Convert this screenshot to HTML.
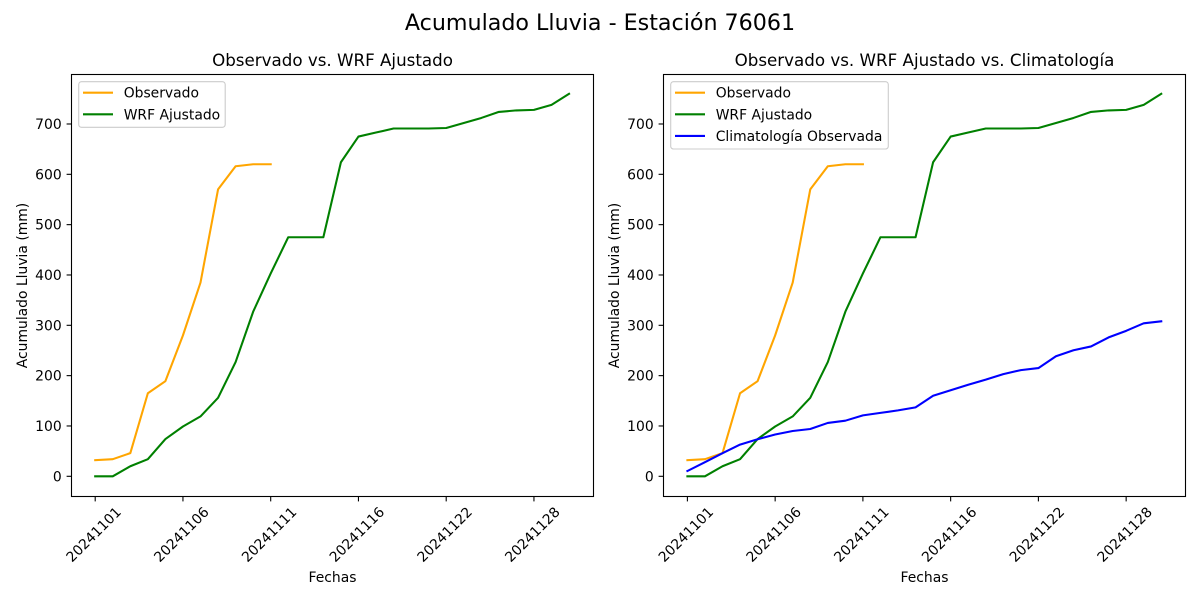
<!DOCTYPE html>
<html><head><meta charset="utf-8"><style>
html,body{margin:0;padding:0;background:#fff;}
svg{display:block;font-family:"DejaVu Sans","Liberation Sans",sans-serif;}
</style></head><body>
<svg width="1200" height="600" viewBox="0 0 1200 600" xmlns="http://www.w3.org/2000/svg">
<rect width="1200" height="600" fill="#fff"/>
<text x="600" y="30" font-size="22.2" text-anchor="middle" fill="#000">Acumulado Lluvia - Estación 76061</text>

<!-- LEFT AXES -->
<text x="332.5" y="66" font-size="16.7" text-anchor="middle" fill="#000">Observado vs. WRF Ajustado</text>
<g fill="none" stroke-linejoin="round" stroke-linecap="square">
<g transform="translate(95.2,476.3) scale(17.55,-0.5033)">
<polyline vector-effect="non-scaling-stroke" stroke="#FFA500" stroke-width="2.08" points="0,32 1,34 2,46 3,165 4,189 5,280 6,385 7,570 8,616 9,620 10,620"/>
<polyline vector-effect="non-scaling-stroke" stroke="#008000" stroke-width="2.08" points="0,0 1,0 2,20 3,34 4,74 5,99 6,119 7,156 8,227 9,327 10,403 11,475 12,475 13,475 14,624 15,675 16,683 17,691 18,691 19,691 20,692 21,702 22,712 23,724 24,727 25,728 26,738 27,760"/>
</g>
</g>
<rect x="71.5" y="74.5" width="522" height="422" fill="none" stroke="#000" stroke-width="1.1"/>
<g stroke="#000" stroke-width="1.1">
<line x1="66.6" x2="71.5" y1="476.3" y2="476.3"/>
<line x1="66.6" x2="71.5" y1="425.97" y2="425.97"/>
<line x1="66.6" x2="71.5" y1="375.64" y2="375.64"/>
<line x1="66.6" x2="71.5" y1="325.31" y2="325.31"/>
<line x1="66.6" x2="71.5" y1="274.98" y2="274.98"/>
<line x1="66.6" x2="71.5" y1="224.65" y2="224.65"/>
<line x1="66.6" x2="71.5" y1="174.32" y2="174.32"/>
<line x1="66.6" x2="71.5" y1="123.99" y2="123.99"/>
<line x1="95.2" x2="95.2" y1="496.5" y2="501.4"/>
<line x1="182.95" x2="182.95" y1="496.5" y2="501.4"/>
<line x1="270.7" x2="270.7" y1="496.5" y2="501.4"/>
<line x1="358.45" x2="358.45" y1="496.5" y2="501.4"/>
<line x1="446.2" x2="446.2" y1="496.5" y2="501.4"/>
<line x1="533.95" x2="533.95" y1="496.5" y2="501.4"/>
</g>
<g font-size="13.9" text-anchor="end" fill="#000">
<text x="61.7" y="481.3">0</text>
<text x="61.7" y="430.97">100</text>
<text x="61.7" y="380.64">200</text>
<text x="61.7" y="330.31">300</text>
<text x="61.7" y="279.98">400</text>
<text x="61.7" y="229.65">500</text>
<text x="61.7" y="179.32">600</text>
<text x="61.7" y="128.99">700</text>
</g>
<g font-size="13.9" text-anchor="middle" dominant-baseline="central" fill="#000">
<text transform="translate(94.2,535) rotate(-45)">20241101</text>
<text transform="translate(181.95,535) rotate(-45)">20241106</text>
<text transform="translate(269.7,535) rotate(-45)">20241111</text>
<text transform="translate(357.45,535) rotate(-45)">20241116</text>
<text transform="translate(445.2,535) rotate(-45)">20241122</text>
<text transform="translate(532.95,535) rotate(-45)">20241128</text>
</g>
<text x="332.5" y="582" font-size="13.9" text-anchor="middle" fill="#000">Fechas</text>
<text transform="translate(27,285.5) rotate(-90)" font-size="13.9" text-anchor="middle" fill="#000">Acumulado Lluvia (mm)</text>
<!-- legend left -->
<rect x="78.7" y="81.7" width="146.5" height="45.6" rx="2.8" fill="#fff" fill-opacity="0.8" stroke="#cccccc" stroke-width="1.1"/>
<line x1="83" x2="113" y1="92.7" y2="92.7" stroke="#FFA500" stroke-width="2.08"/>
<line x1="83" x2="113" y1="114.3" y2="114.3" stroke="#008000" stroke-width="2.08"/>
<g font-size="13.9" fill="#000">
<text x="123.7" y="97.7">Observado</text>
<text x="123.7" y="119.3">WRF Ajustado</text>
</g>

<!-- RIGHT AXES -->
<text x="924.5" y="66" font-size="16.7" text-anchor="middle" fill="#000">Observado vs. WRF Ajustado vs. Climatología</text>
<g fill="none" stroke-linejoin="round" stroke-linecap="square">
<g transform="translate(687.4,476.3) scale(17.55,-0.5033)">
<polyline vector-effect="non-scaling-stroke" stroke="#FFA500" stroke-width="2.08" points="0,32 1,34 2,46 3,165 4,189 5,280 6,385 7,570 8,616 9,620 10,620"/>
<polyline vector-effect="non-scaling-stroke" stroke="#008000" stroke-width="2.08" points="0,0 1,0 2,20 3,34 4,74 5,99 6,119 7,156 8,227 9,327 10,403 11,475 12,475 13,475 14,624 15,675 16,683 17,691 18,691 19,691 20,692 21,702 22,712 23,724 24,727 25,728 26,738 27,760"/>
<polyline vector-effect="non-scaling-stroke" stroke="#0000FF" stroke-width="2.08" points="0,10.5 1,28 2,46 3,63 4,73.5 5,83 6,90 7,94 8,106 9,110.5 10,121 11,126 12,131 13,137 14,160 15,171 16,182 17,192 18,203 19,211 20,215 21,238.5 22,250.5 23,258 24,276 25,289 26,304 27,308"/>
</g>
</g>
<rect x="663.5" y="74.5" width="522" height="422" fill="none" stroke="#000" stroke-width="1.1"/>
<g stroke="#000" stroke-width="1.1">
<line x1="658.6" x2="663.5" y1="476.3" y2="476.3"/>
<line x1="658.6" x2="663.5" y1="425.97" y2="425.97"/>
<line x1="658.6" x2="663.5" y1="375.64" y2="375.64"/>
<line x1="658.6" x2="663.5" y1="325.31" y2="325.31"/>
<line x1="658.6" x2="663.5" y1="274.98" y2="274.98"/>
<line x1="658.6" x2="663.5" y1="224.65" y2="224.65"/>
<line x1="658.6" x2="663.5" y1="174.32" y2="174.32"/>
<line x1="658.6" x2="663.5" y1="123.99" y2="123.99"/>
<line x1="687.4" x2="687.4" y1="496.5" y2="501.4"/>
<line x1="775.15" x2="775.15" y1="496.5" y2="501.4"/>
<line x1="862.9" x2="862.9" y1="496.5" y2="501.4"/>
<line x1="950.65" x2="950.65" y1="496.5" y2="501.4"/>
<line x1="1038.4" x2="1038.4" y1="496.5" y2="501.4"/>
<line x1="1126.15" x2="1126.15" y1="496.5" y2="501.4"/>
</g>
<g font-size="13.9" text-anchor="end" fill="#000">
<text x="653.7" y="481.3">0</text>
<text x="653.7" y="430.97">100</text>
<text x="653.7" y="380.64">200</text>
<text x="653.7" y="330.31">300</text>
<text x="653.7" y="279.98">400</text>
<text x="653.7" y="229.65">500</text>
<text x="653.7" y="179.32">600</text>
<text x="653.7" y="128.99">700</text>
</g>
<g font-size="13.9" text-anchor="middle" dominant-baseline="central" fill="#000">
<text transform="translate(686.4,535) rotate(-45)">20241101</text>
<text transform="translate(774.15,535) rotate(-45)">20241106</text>
<text transform="translate(861.9,535) rotate(-45)">20241111</text>
<text transform="translate(949.65,535) rotate(-45)">20241116</text>
<text transform="translate(1037.4,535) rotate(-45)">20241122</text>
<text transform="translate(1125.15,535) rotate(-45)">20241128</text>
</g>
<text x="924.5" y="582" font-size="13.9" text-anchor="middle" fill="#000">Fechas</text>
<text transform="translate(619,285.5) rotate(-90)" font-size="13.9" text-anchor="middle" fill="#000">Acumulado Lluvia (mm)</text>
<!-- legend right -->
<rect x="670.7" y="81.7" width="217.6" height="67.3" rx="2.8" fill="#fff" fill-opacity="0.8" stroke="#cccccc" stroke-width="1.1"/>
<line x1="675" x2="705" y1="92.7" y2="92.7" stroke="#FFA500" stroke-width="2.08"/>
<line x1="675" x2="705" y1="114.3" y2="114.3" stroke="#008000" stroke-width="2.08"/>
<line x1="675" x2="705" y1="135.9" y2="135.9" stroke="#0000FF" stroke-width="2.08"/>
<g font-size="13.9" fill="#000">
<text x="715.7" y="97.7">Observado</text>
<text x="715.7" y="119.3">WRF Ajustado</text>
<text x="715.7" y="140.9">Climatología Observada</text>
</g>
</svg>
</body></html>
